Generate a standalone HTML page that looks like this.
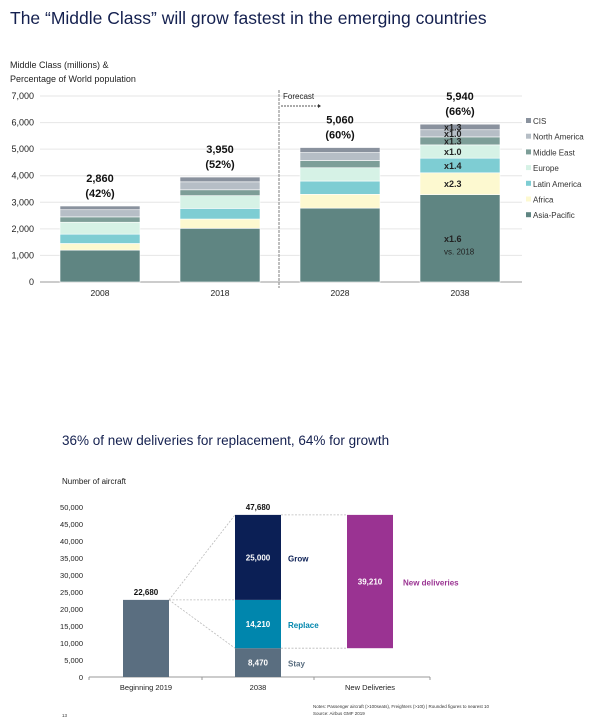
<!DOCTYPE html>
<html><head><meta charset="utf-8">
<style>
body{margin:0;background:#fff;width:605px;height:723px;overflow:hidden;font-family:"Liberation Sans",Arial,sans-serif;}
svg{display:block}
</style></head>
<body>
<svg id="s" width="605" height="723" xmlns="http://www.w3.org/2000/svg" font-family="Liberation Sans, Arial, sans-serif">
<text x="10" y="24" font-size="17.5" fill="#14204f">The “Middle Class” will grow fastest in the emerging countries</text>
<text x="10" y="68" font-size="9" fill="#222">Middle Class (millions) &amp;</text>
<text x="10" y="82" font-size="9" fill="#222">Percentage of World population</text>
<text x="62" y="445" font-size="13.5" fill="#14204f">36% of new deliveries for replacement, 64% for growth</text>
<text x="62" y="484" font-size="8" fill="#222">Number of aircraft</text>
<text x="313" y="708" font-size="4.5" fill="#333">Notes: Passenger aircraft (&gt;100seats), Freighters (&gt;10t) | Rounded figures to nearest 10</text>
<text x="313" y="715" font-size="4.5" fill="#333">Source: Airbus GMF 2019</text>
<text x="62" y="717" font-size="4.5" fill="#333">13</text>
<g id="top"></g><g id="bot"></g>
</svg>
<script>
// ---- Top chart data ----
const years = ["2008","2018","2028","2038"];
const regions = ["Asia-Pacific","Africa","Latin America","Europe","Middle East","North America","CIS"];
const asiaPacific = [1200,2020,2780,3290];
const africa = [250,350,520,820];
const latinAmerica = [350,400,500,550];
const europe = [450,480,500,500];
const middleEast = [200,220,270,300];
const northAmerica = [270,300,300,270];
const cis = [140,180,190,210];
const totalLabels = ["2,860","3,950","5,060","5,940"];
const pctLabels = ["(42%)","(52%)","(60%)","(66%)"];
const growthLabels = ["x1.6","x2.3","x1.4","x1.0","x1.3","x1.0","x1.3"];
const topTicks = [0,1000,2000,3000,4000,5000,6000,7000];

// ---- Bottom chart data ----
const fleetCats = ["Beginning 2019","2038","New Deliveries"];
const beginFleet = 22680;
const stay = 8470, replace = 14210, grow = 25000;
const newDeliveries = 39210;
const botTicks = [0,5000,10000,15000,20000,25000,30000,35000,40000,45000,50000];

const NS="http://www.w3.org/2000/svg";
function mk(parent,tag,attrs,text){const e=document.createElementNS(NS,tag);for(const k in attrs)e.setAttribute(k,attrs[k]);if(text!==undefined)e.textContent=text;parent.appendChild(e);return e;}
function fmt(v){return v.toLocaleString("en-US");}

// Top chart
const T=document.getElementById("top");
const tY=v=>282-v*(186/7000);
const tX=i=>60+i*120; const tW=80;
const colors=["#5f8582","#fdf9d0","#7ecdd3","#d6f2e6","#7d9e98","#b6bec6","#8a929e"];
const series=[asiaPacific,africa,latinAmerica,europe,middleEast,northAmerica,cis];
topTicks.forEach(v=>{
  const l=mk(T,"line",{x1:40,x2:522,y1:tY(v),y2:tY(v),stroke:v?"#e6e6e6":"#999","stroke-width":1});
  
  
  const t=mk(T,"text",{x:34,y:tY(v)+3,"font-size":9,"text-anchor":"end",fill:"#222"},fmt(v));
  
  
});
const fl=mk(T,"line",{x1:279,x2:279,y1:90,y2:288,stroke:"#aaa","stroke-width":1.5,"stroke-dasharray":"3,1"});


const ft=mk(T,"text",{x:283,y:99,"font-size":8,fill:"#222"},"Forecast");


const fa=mk(T,"line",{x1:281,x2:318,y1:106,y2:106,stroke:"#555","stroke-width":1,"stroke-dasharray":"2,1"});


mk(T,"polygon",{points:"318,104 321,106 318,108",fill:"#333"});
years.forEach((y,i)=>{
  let cum=0;
  series.forEach((s,j)=>{
    const y0=tY(cum),y1=tY(cum+s[i]);
    const r=mk(T,"rect",{x:tX(i),y:y1,width:tW,height:y0-y1,fill:colors[j],stroke:"#fff","stroke-width":0.6});
    
    
    if(i===3){
      const g=mk(T,"text",{x:tX(i)+24,y:(y0+y1)/2+3.5,"font-size":9,"font-weight":"bold",fill:"#222"},growthLabels[j]);
      
      
    }
    cum+=s[i];
  });
  if(i===3){const v=mk(T,"text",{x:tX(i)+24,y:tY(asiaPacific[3]/2)+16,"font-size":8,fill:"#222"},"vs. 2018");}
  const a=mk(T,"text",{x:tX(i)+tW/2,y:tY(cum)-24,"font-size":11,"font-weight":"bold","text-anchor":"middle",fill:"#111"},totalLabels[i]);
  
  
  const b=mk(T,"text",{x:tX(i)+tW/2,y:tY(cum)-9,"font-size":11,"font-weight":"bold","text-anchor":"middle",fill:"#111"},pctLabels[i]);
  
  
  const c=mk(T,"text",{x:tX(i)+tW/2,y:296,"font-size":8.5,"text-anchor":"middle",fill:"#222"},y);
  
  
});
regions.slice().reverse().forEach((r,k)=>{
  const j=regions.length-1-k;
  const ly=124+k*15.7;
  const sq=mk(T,"rect",{x:526,y:ly-6,width:5,height:5,fill:colors[j]});
  
  
  const t=mk(T,"text",{x:533,y:ly,"font-size":8,fill:"#333"},r);
  
  
});

// Bottom chart
const B=document.getElementById("bot");
const bY=v=>677-v*(170/50000);
const cx=[146,258,370]; const bw=46;
botTicks.forEach(v=>{
  const t=mk(B,"text",{x:83,y:bY(v)+3,"font-size":7.5,"text-anchor":"end",fill:"#222"},fmt(v));
  
  
});
const ax=mk(B,"line",{x1:89,x2:430,y1:677,y2:677,stroke:"#999"});


mk(B,"line",{x1:89,x2:89,y1:677,y2:680,stroke:"#999"});
mk(B,"line",{x1:202,x2:202,y1:677,y2:680,stroke:"#999"});
mk(B,"line",{x1:314,x2:314,y1:677,y2:680,stroke:"#999"});
mk(B,"line",{x1:430,x2:430,y1:677,y2:680,stroke:"#999"});
fleetCats.forEach((c,i)=>{
  const t=mk(B,"text",{x:cx[i],y:690,"font-size":7.5,"text-anchor":"middle",fill:"#222"},c);
  
  
});
function bar(i,v0,v1,fill,name){const r=mk(B,"rect",{x:cx[i]-bw/2,y:bY(v1),width:bw,height:bY(v0)-bY(v1),fill:fill});return r;}
function txt(x,y,s,fill,name,bold,anchor){const t=mk(B,"text",{x:x,y:y,"font-size":8,"font-weight":bold?"bold":"normal","text-anchor":anchor||"middle",fill:fill},s);}
const total=stay+replace+grow;
[[cx[0]+bw/2,bY(beginFleet),cx[1]-bw/2,bY(total)],[cx[0]+bw/2,bY(beginFleet),cx[1]-bw/2,bY(beginFleet)],[cx[0]+bw/2,bY(beginFleet),cx[1]-bw/2,bY(stay)],[cx[1]+bw/2,bY(total),cx[2]-bw/2,bY(total)],[cx[1]+bw/2,bY(stay),cx[2]-bw/2,bY(stay)]].forEach(p=>{
  const l=mk(B,"line",{x1:p[0],y1:p[1],x2:p[2],y2:p[3],stroke:"#bbb","stroke-width":0.8,"stroke-dasharray":"2,1.5"});
  
  
});
bar(0,0,beginFleet,"#5a6e80","bar-beginning-2019");
bar(1,0,stay,"#5a6e80","bar-stay");
bar(1,stay,stay+replace,"#0086ad","bar-replace");
bar(1,stay+replace,total,"#0b1f55","bar-grow");
bar(2,total-newDeliveries,total,"#9a3392","bar-new-deliveries");
txt(cx[0],bY(beginFleet)-5,fmt(beginFleet),"#111","label-beginning-2019",true);
txt(cx[1],bY(total)-5,fmt(total),"#111","label-2038-total",true);
txt(cx[1],bY(stay/2)+3,fmt(stay),"#fff","label-stay-value",true);
txt(cx[1],bY(stay+replace/2)+3,fmt(replace),"#fff","label-replace-value",true);
txt(cx[1],bY(stay+replace+grow/2)+3,fmt(grow),"#fff","label-grow-value",true);
txt(cx[2],bY(total-newDeliveries/2)+3,fmt(newDeliveries),"#fff","label-new-deliveries-value",true);
txt(cx[1]+bw/2+7,bY(stay/2)+4,"Stay","#5a6e80","label-stay",true,"start");
txt(cx[1]+bw/2+7,bY(stay+replace/2)+4,"Replace","#0086ad","label-replace",true,"start");
txt(cx[1]+bw/2+7,bY(stay+replace+grow/2)+4,"Grow","#0b1f55","label-grow",true,"start");
txt(cx[2]+bw/2+10,bY(total-newDeliveries/2)+4,"New deliveries","#9a3392","label-new-deliveries",true,"start");
</script>
</body></html>
